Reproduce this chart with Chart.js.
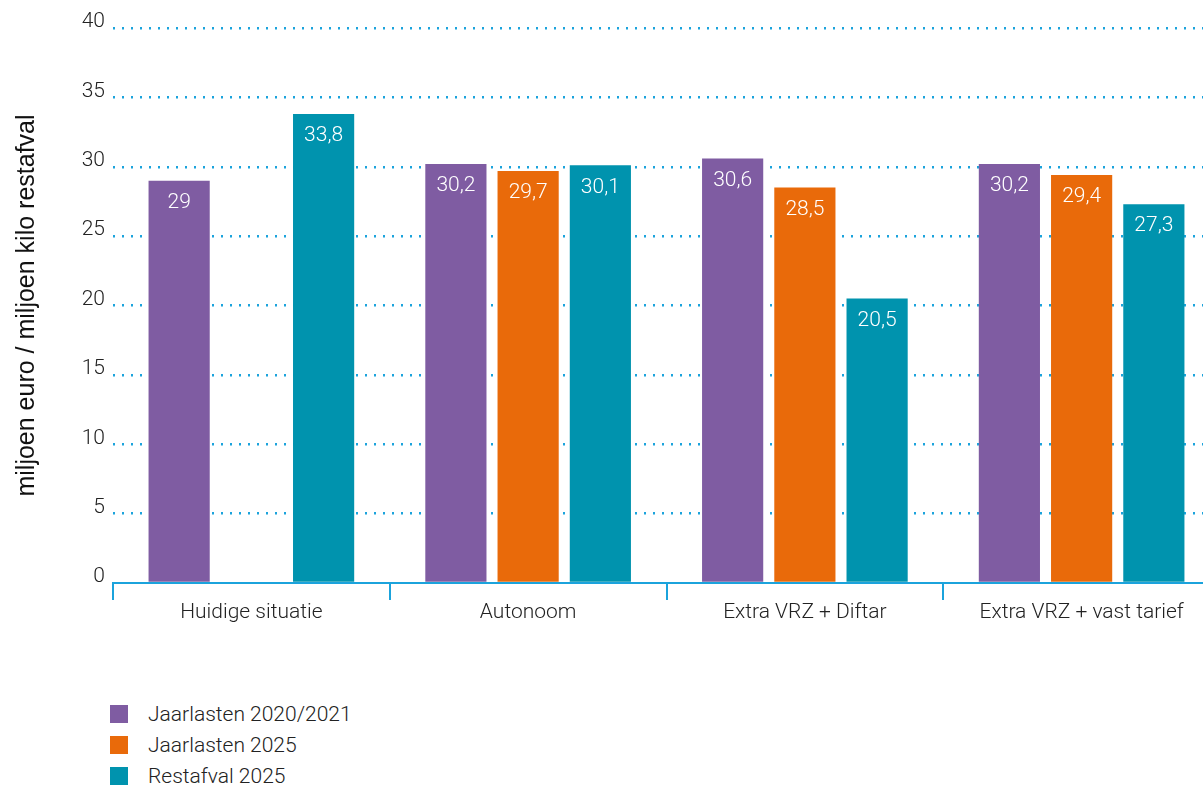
<!DOCTYPE html>
<html>
<head>
<meta charset="utf-8">
<script src="https://cdn.jsdelivr.net/npm/chart.js@4/dist/chart.umd.min.js"></script>
<style>
  html, body { margin: 0; padding: 0; background: #fff; overflow: hidden; width: 1203px; height: 797px; }
  body { position: relative; font-family: 'Roboto', sans-serif; font-weight: 300; color: #222; }
  .wrap { position: absolute; left: 0; top: 0; width: 1220px; height: 633px; }
  .legend { position: absolute; left: 110px; top: 703px; font-size: 21px; }
  .legend div { height: 31px; line-height: 22px; }
  .legend i { display: inline-block; width: 18px; height: 18px; margin-right: 20px; vertical-align: -2px; }
</style>
</head>
<body>
<div class="wrap"><canvas id="chart" width="1220" height="633"></canvas></div>
<div class="legend" id="legend"></div>
<script>
const CATEGORIES = ['Huidige situatie', 'Autonoom', 'Extra VRZ + Diftar', 'Extra VRZ + vast tarief'];
const JAARLASTEN_2021 = [29, 30.2, 30.6, 30.2];
const JAARLASTEN_2025 = [null, 29.7, 28.5, 29.4];
const RESTAFVAL_2025 = [33.8, 30.1, 20.5, 27.3];
const Y_TICKS = [0, 5, 10, 15, 20, 25, 30, 35, 40];

const FONT = "'Roboto', sans-serif";
const BLUE = '#1ba3dc';
const SERIES = [
  ['Jaarlasten 2020/2021', JAARLASTEN_2021, '#7f5ca2'],
  ['Jaarlasten 2025', JAARLASTEN_2025, '#e96a0a'],
  ['Restafval 2025', RESTAFVAL_2025, '#0093ae'],
];

const valueLabels = {
  id: 'valueLabels',
  afterDatasetsDraw(chart) {
    const { ctx } = chart;
    ctx.save();
    ctx.fillStyle = '#fff';
    ctx.font = `300 21px ${FONT}`;
    ctx.textAlign = 'center';
    ctx.textBaseline = 'middle';
    chart.data.datasets.forEach((ds, i) => {
      chart.getDatasetMeta(i).data.forEach((bar, j) => {
        const v = ds.data[j];
        if (v == null) return;
        ctx.fillText(String(v).replace('.', ','), bar.x, bar.y + 22);
      });
    });
    ctx.restore();
  },
};

const tickFont = { family: FONT, size: 21, weight: 300 };

new Chart(document.getElementById('chart'), {
  type: 'bar',
  data: {
    labels: CATEGORIES,
    datasets: SERIES.map(([label, data, color]) => ({
      label, data, backgroundColor: color, borderWidth: 0,
      barPercentage: 0.847, categoryPercentage: 0.783,
    })),
  },
  options: {
    responsive: false,
    animation: false,
    layout: { padding: { top: 28, left: 0, right: 0, bottom: 0 } },
    plugins: { legend: { display: false }, tooltip: { enabled: false } },
    scales: {
      x: {
        grid: { display: true, drawOnChartArea: false, drawTicks: true, tickLength: 17, color: BLUE, lineWidth: 2, offset: true },
        border: { display: true, color: BLUE, width: 2 },
        ticks: { color: '#222', font: tickFont, padding: 0, maxRotation: 0 },
        afterFit: (s) => { s.height = 50; },
      },
      y: {
        min: 0, max: 40,
        afterBuildTicks: (s) => { s.ticks = Y_TICKS.map((value) => ({ value })); },
        grid: { color: (c) => (c.tick.value === 0 ? 'rgba(0,0,0,0)' : BLUE), lineWidth: 2.5, drawTicks: false },
        border: { display: false, dash: [2, 7] },
        ticks: { color: '#222', font: tickFont, padding: 8, labelOffset: -6 },
        title: {
          display: true, text: 'miljoen euro / miljoen kilo restafval', color: '#111',
          font: { family: "'Liberation Sans', Arial, sans-serif", size: 25, weight: 'normal' },
          padding: { top: 12, bottom: 0 },
        },
        afterFit: (s) => { s.width = 113; },
      },
    },
  },
  plugins: [valueLabels],
});

document.getElementById('legend').innerHTML = SERIES
  .map(([label, , color]) => `<div><i style="background:${color}"></i>${label}</div>`)
  .join('');
</script>
</body>
</html>
